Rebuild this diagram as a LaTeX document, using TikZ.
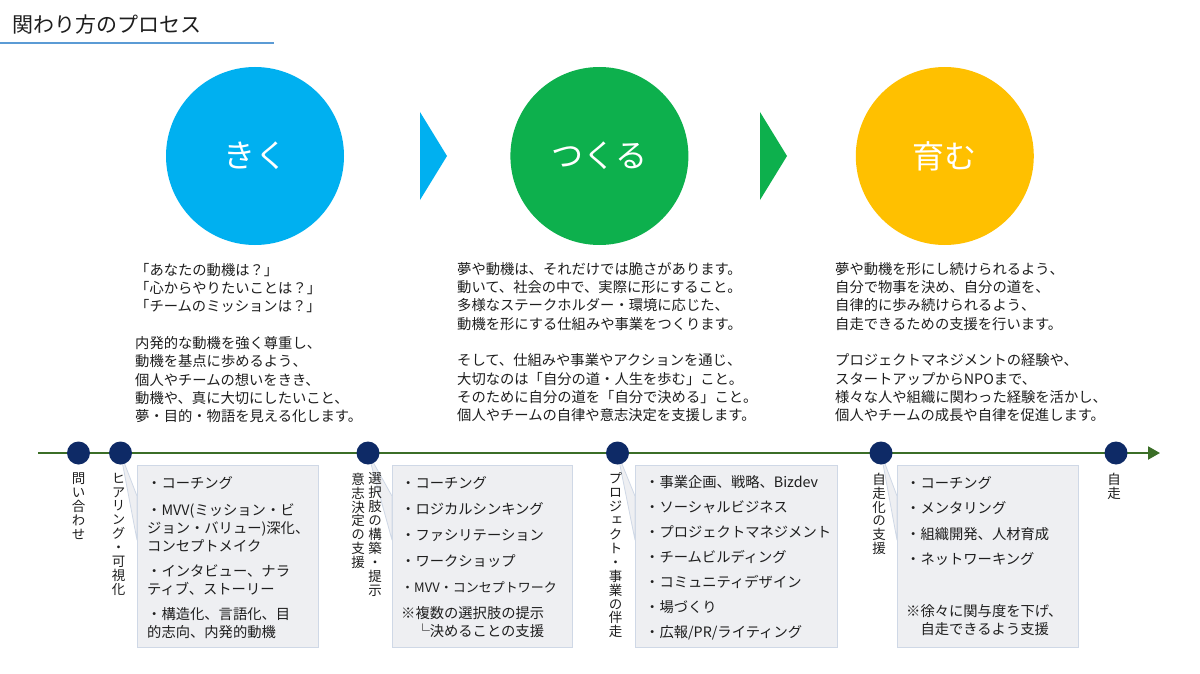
\documentclass[tikz,border=0pt]{standalone}
\usepackage{fontspec}
\setmainfont{Noto Sans CJK JP}
\newfontfamily\vjp[RawFeature=+vert]{Noto Sans CJK JP}
\usepackage{tikz}
\usetikzlibrary{arrows.meta, positioning, calc, backgrounds}
\definecolor{kblue}{HTML}{00B0F0}
\definecolor{tgreen}{HTML}{0DB04D}
\definecolor{hgold}{HTML}{FFC000}
\definecolor{navy}{HTML}{0E2A66}
\definecolor{tlgreen}{HTML}{3B6E27}
\definecolor{uline}{HTML}{5B9BD5}
\definecolor{boxfill}{HTML}{EEEFF2}
\definecolor{boxline}{HTML}{CFD8E6}
\definecolor{txt}{HTML}{1E1E1E}

\begin{document}
\begin{tikzpicture}[
  x=1pt, y=-1pt,
  circ/.style={circle, minimum size=178pt, inner sep=0pt, text=white,
               font=\fontsize{32}{32}\selectfont},
  para/.style={anchor=north west, align=left, inner sep=0pt, text=txt,
               font=\fontsize{14.3}{18.3}\selectfont},
  tdot/.style={circle, fill=navy, minimum size=23pt, inner sep=0pt},
  vlab/.style={align=center, inner sep=0pt, text=txt,
               font=\vjp\fontsize{13.5}{13.9}\selectfont},
  box/.style={draw=boxline, fill=boxfill, line width=0.8pt, anchor=north west,
              minimum height=182pt, inner sep=0pt},
  boxtext/.style={align=left, inner sep=0pt, text=txt,
                  font=\fontsize{14.3}{18}\selectfont},
  callout/.style={draw=boxline, fill=boxfill, line width=0.8pt, line join=round},
  tl/.style={-{Triangle[length=12pt, width=13pt]}, line width=2pt, draw=tlgreen}
]
  \useasboundingbox (0,0) rectangle (1200,674);

  \node[anchor=west, inner sep=0pt, text=txt, font=\fontsize{21}{21}\selectfont] (title) at (12,25) {関わり方のプロセス};
  \draw[line width=2pt, draw=uline] (0,43) -- (274,43);

  \node[circ, fill=kblue] (kiku) at (255,156) {きく};
  \node[circ, fill=tgreen, right=166pt of kiku] (tsukuru) {つくる};
  \node[circ, fill=hgold, right=167pt of tsukuru] (hagu) {育む};
  \fill[kblue] (420,112) -- (447,156) -- (420,200) -- cycle;
  \fill[tgreen] (760,112) -- (787,156) -- (760,200) -- cycle;

  \node[para] (kikutext) at (135,263) {「あなたの動機は？」\\「心からやりたいことは？」\\「チームのミッションは？」\\[18.3pt]内発的な動機を強く尊重し、\\動機を基点に歩めるよう、\\個人やチームの想いをきき、\\動機や、真に大切にしたいこと、\\夢・目的・物語を見える化します。};
  \node[para] (tsukurutext) at (457,262) {夢や動機は、それだけでは脆さがあります。\\動いて、社会の中で、実際に形にすること。\\多様なステークホルダー・環境に応じた、\\動機を形にする仕組みや事業をつくります。\\[18.3pt]そして、仕組みや事業やアクションを通じ、\\大切なのは「自分の道・人生を歩む」こと。\\そのために自分の道を「自分で決める」こと。\\個人やチームの自律や意志決定を支援します。};
  \node[para] (hagutext) at (835,262) {夢や動機を形にし続けられるよう、\\自分で物事を決め、自分の道を、\\自律的に歩み続けられるよう、\\自走できるための支援を行います。\\[18.3pt]プロジェクトマネジメントの経験や、\\スタートアップからNPOまで、\\様々な人や組織に関わった経験を活かし、\\個人やチームの成長や自律を促進します。};

  \coordinate (tstart) at (38,453);
  \coordinate (tend) at (1160,453);
  \draw[tl] (tstart) -- (tend);

  \node[tdot] (d1) at (78.5,453) {};
  \node[tdot] (d2) at (120.5,453) {};
  \node[tdot] (d3) at (368,453) {};
  \node[tdot] (d4) at (617.5,453) {};
  \node[tdot] (d5) at (881,453) {};
  \node[tdot] (d6) at (1116,453) {};

  \node[vlab, below=8pt of d1] (l1) {問\\い\\合\\わ\\せ};
  \node[vlab, below=8pt of d2, xshift=-2pt] (l2) {ヒ\\ア\\リ\\ン\\グ\\・\\可\\視\\化};
  \node[vlab, below=8pt of d3, xshift=7pt] (l3) {選\\択\\肢\\の\\構\\築\\・\\提\\示};
  \node[vlab, below=8pt of d3, xshift=-10pt] (l3b) {意\\志\\決\\定\\の\\支\\援};
  \node[vlab, below=8pt of d4, xshift=-2pt] (l4) {プ\\ロ\\ジ\\ェ\\ク\\ト\\・\\事\\業\\の\\伴\\走};
  \node[vlab, below=8pt of d5, xshift=-2pt] (l5) {自\\走\\化\\の\\支\\援};
  \node[vlab, below=8pt of d6, xshift=-2pt] (l6) {自\\走};

  \begin{scope}[on background layer]
    \fill[white] (0,0) rectangle (1200,674);
    \node[box, minimum width=181pt] (b1) at (137,465) {};
    \node[box, minimum width=180pt] (b2) at (392,465) {};
    \node[box, minimum width=202pt] (b3) at (635,465) {};
    \node[box, minimum width=181pt] (b4) at (897,465) {};
    \filldraw[callout] (d2.center) -- ($(b1.north west)!0.17!(b1.south west)$) -- ($(b1.north west)!0.41!(b1.south west)$) -- cycle;
    \filldraw[callout] (d3.center) -- ($(b2.north west)!0.17!(b2.south west)$) -- ($(b2.north west)!0.41!(b2.south west)$) -- cycle;
    \filldraw[callout] (d4.center) -- ($(b3.north west)!0.17!(b3.south west)$) -- ($(b3.north west)!0.41!(b3.south west)$) -- cycle;
    \filldraw[callout] (d5.center) -- ($(b4.north west)!0.17!(b4.south west)$) -- ($(b4.north west)!0.41!(b4.south west)$) -- cycle;
  \end{scope}

  \node[boxtext, below right=11pt and 10pt of b1.north west] (t1) {・コーチング\\[9pt]・MVV(ミッション・ビ\\ジョン・バリュー)深化、\\コンセプトメイク\\[7pt]・インタビュー、ナラ\\ティブ、ストーリー\\[7pt]・構造化、言語化、目\\的志向、内発的動機};
  \node[boxtext, below right=11pt and 9pt of b2.north west] (t2) {・コーチング\\[8pt]・ロジカルシンキング\\[8pt]・ファシリテーション\\[8pt]・ワークショップ\\[8pt]{\fontsize{13}{18}\selectfont ・MVV・コンセプトワーク}\\[8pt]※複数の選択肢の提示\\　└決めることの支援};
  \node[boxtext, below right=10pt and 10pt of b3.north west] (t3) {・事業企画、戦略、Bizdev\\[7pt]・ソーシャルビジネス\\[7pt]・プロジェクトマネジメント\\[7pt]・チームビルディング\\[7pt]・コミュニティデザイン\\[7pt]・場づくり\\[7pt]・広報/PR/ライティング};
  \node[boxtext, below right=11pt and 9pt of b4.north west] (t4) {・コーチング\\[7.5pt]・メンタリング\\[7.5pt]・組織開発、人材育成\\[7.5pt]・ネットワーキング\\[34pt]※徐々に関与度を下げ、\\　自走できるよう支援};
\end{tikzpicture}
\end{document}
